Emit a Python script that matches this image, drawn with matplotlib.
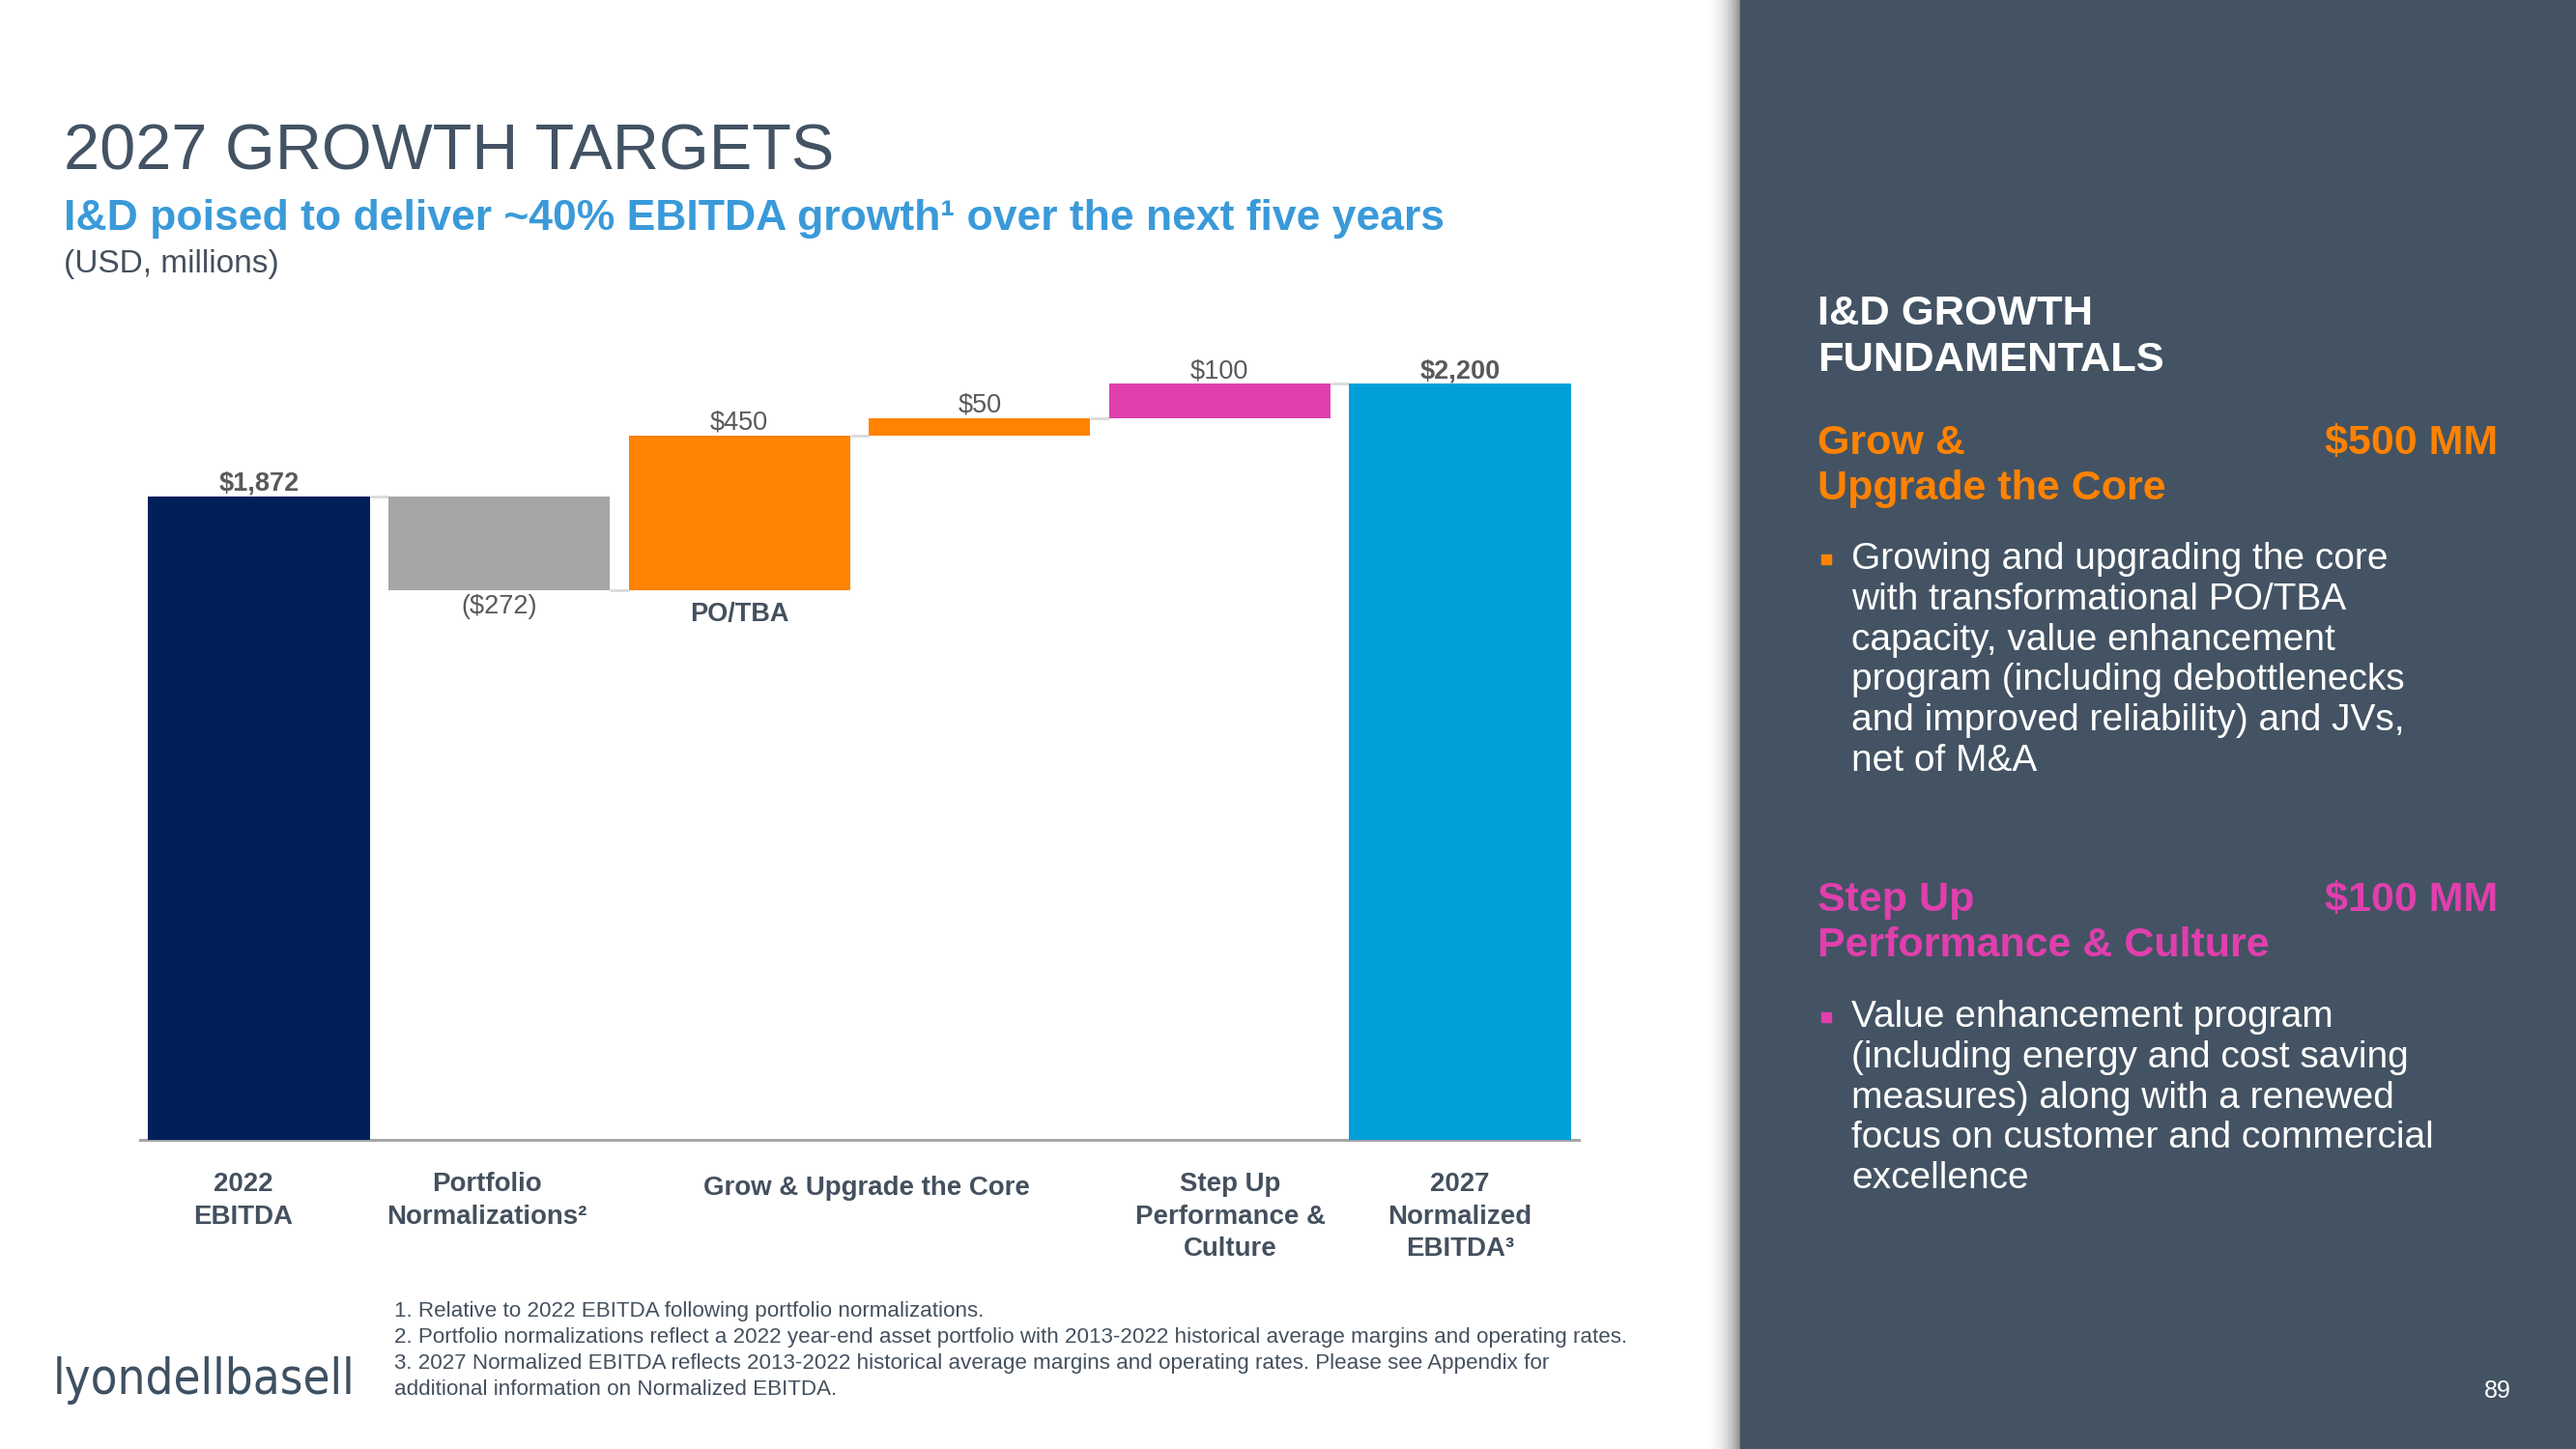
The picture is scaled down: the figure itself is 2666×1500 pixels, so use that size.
import numpy as np
import matplotlib
matplotlib.use("Agg")
import matplotlib.pyplot as plt
from matplotlib import transforms
from matplotlib.patches import Rectangle

# ---------------- data ----------------
categories = ["2022\nEBITDA", "Portfolio\nNormalizations\u00b2", "", "",
              "Step Up\nPerformance &\nCulture", "2027\nNormalized\nEBITDA\u00b3"]
values = [1872, -272, 450, 50, 100, 2200]
kinds = ["total", "delta", "delta", "delta", "delta", "total"]
bar_colors = ["#001F5B", "#A6A6A6", "#FF8200", "#FF8200", "#E03FAD", "#009FDA"]
value_labels = ["$1,872", "($272)", "$450", "$50", "$100", "$2,200"]
label_bold = [True, False, False, False, False, True]
group_label = "Grow & Upgrade the Core"
inner_label = "PO/TBA"

footnotes = [
    "1. Relative to 2022 EBITDA following portfolio normalizations.",
    "2. Portfolio normalizations reflect a 2022 year-end asset portfolio with 2013-2022 historical average margins and operating rates.",
    "3. 2027 Normalized EBITDA reflects 2013-2022 historical average margins and operating rates. Please see Appendix for",
    "additional information on Normalized EBITDA.",
]
bullet1 = ["Growing and upgrading the core", "with transformational PO/TBA",
           "capacity, value enhancement", "program (including debottlenecks",
           "and improved reliability) and JVs,", "net of M&A"]
bullet2 = ["Value enhancement program", "(including energy and cost saving",
           "measures) along with a renewed", "focus on customer and commercial",
           "excellence"]

# ---------------- style ----------------
plt.rcParams['font.family'] = ['Liberation Sans', 'DejaVu Sans']
W, H = 2666, 1500
SLATE = "#435363"
TXT = "#44505E"
LBL = "#595959"
ORANGE = "#FF8200"
PINK = "#E03FAD"

fig = plt.figure(figsize=(W / 100, H / 100), dpi=100)
fig.patch.set_facecolor("white")


def fx(x):
    return x / W


def fy(y):
    return 1 - y / H


# ---------------- waterfall ----------------
ax = fig.add_axes([145 / W, (H - 1180) / H, (1634 - 145) / W, 854 / H])
n = len(values)
x = np.arange(n)
vals = np.array(values, dtype=float)
bottoms = np.zeros(n)
heights = np.zeros(n)
running = 0.0
for i, (v, k) in enumerate(zip(vals, kinds)):
    if k == "total":
        bottoms[i] = 0
        heights[i] = v
        running = v
    else:
        if v >= 0:
            bottoms[i] = running
            heights[i] = v
        else:
            bottoms[i] = running + v
            heights[i] = -v
        running += v

bw = 0.922
ax.bar(x, heights, bottom=bottoms, width=bw, color=bar_colors, zorder=3)

# connectors
levels = []
running = 0.0
for v, k in zip(vals, kinds):
    running = v if k == "total" else running + v
    levels.append(running)
for i in range(n - 1):
    ax.plot([x[i] + bw / 2, x[i + 1] - bw / 2], [levels[i], levels[i]],
            color="#D9D9D9", lw=2, zorder=2, solid_capstyle="butt")

ax.set_xlim(-0.495, n - 1 + 0.495)
ax.set_ylim(0, 2400)
for s in ["left", "right", "top"]:
    ax.spines[s].set_visible(False)
ax.spines["bottom"].set_color("#A6A6A6")
ax.spines["bottom"].set_linewidth(2.2)
ax.set_xticks([])
ax.set_yticks([])
ax.patch.set_alpha(0)

# value labels
for i in range(n):
    top = bottoms[i] + heights[i]
    if vals[i] >= 0:
        ax.annotate(value_labels[i], (x[i], top), xytext=(0, 4.3),
                    textcoords="offset points", ha="center", va="baseline",
                    fontsize=19.5, color=LBL,
                    fontweight="bold" if label_bold[i] else "normal")
    else:
        ax.annotate(value_labels[i], (x[i], bottoms[i]), xytext=(0, -3),
                    textcoords="offset points", ha="center", va="top",
                    fontsize=19.5, color=LBL,
                    fontweight="bold" if label_bold[i] else "normal")
ax.annotate(inner_label, (x[2], bottoms[2]), xytext=(0, -9),
            textcoords="offset points", ha="center", va="top",
            fontsize=19.5, color=TXT, fontweight="bold")

# category labels
tr = transforms.blended_transform_factory(ax.transData, fig.transFigure)
cat_offsets = [-0.065, -0.05, 0, 0, 0.045, 0.0]
for i, c in enumerate(categories):
    if c:
        ax.text(x[i] + cat_offsets[i], fy(1213), c, transform=tr, ha="center",
                va="top", fontsize=19.9, color=TXT, fontweight="bold",
                linespacing=1.38)
ax.text((x[2] + x[3]) / 2 + 0.03, fy(1217), group_label, transform=tr,
        ha="center", va="top", fontsize=19.9, color=TXT, fontweight="bold")

# ---------------- titles ----------------
fig.text(fx(66), fy(175), "2027 GROWTH TARGETS", fontsize=48, color=SLATE,
         va="baseline", ha="left")
fig.text(fx(66), fy(238),
         "I&D poised to deliver ~40% EBITDA growth\u00b9 over the next five years",
         fontsize=32, color="#3A9AD9", fontweight="bold", va="baseline", ha="left")
fig.text(fx(66), fy(282), "(USD, millions)", fontsize=24, color=TXT,
         va="baseline", ha="left")

# footnotes
for j, line in enumerate(footnotes):
    fig.text(fx(408), fy(1363 + j * 27), line, fontsize=16.1, color=TXT,
             va="baseline", ha="left")

# logo
fig.text(fx(55), fy(1443), "lyondellbasell", family="DejaVu Sans",
         fontstretch="condensed", fontsize=36.5, color="#3E5062",
         va="baseline", ha="left")

# ---------------- right panel ----------------
steps = 36
for k in range(steps):
    t = (k + 1) / steps
    g = 1 - 0.42 * t ** 2.2
    fig.patches.append(Rectangle((fx(1765 + k), 0), 1 / W + 1e-4, 1,
                                 transform=fig.transFigure, color=(g, g, g),
                                 zorder=0))
fig.patches.append(Rectangle((fx(1801), 0), 1 - fx(1801), 1,
                             transform=fig.transFigure, color=SLATE, zorder=0))

HX = 1881
fig.text(fx(HX), fy(336), "I&D GROWTH", fontsize=31.3, color="white",
         fontweight="bold", va="baseline")
fig.text(fx(HX), fy(384), "FUNDAMENTALS", fontsize=31.3, color="white",
         fontweight="bold", va="baseline")

fig.text(fx(HX), fy(470), "Grow &", fontsize=31, color=ORANGE,
         fontweight="bold", va="baseline")
fig.text(fx(HX), fy(517), "Upgrade the Core", fontsize=31, color=ORANGE,
         fontweight="bold", va="baseline")
fig.text(fx(2585), fy(470), "$500 MM", fontsize=31, color=ORANGE,
         fontweight="bold", va="baseline", ha="right")

fig.patches.append(Rectangle((fx(1885), fy(584)), 10 / W, 10 / H,
                             transform=fig.transFigure, color=ORANGE, zorder=1))
for j, line in enumerate(bullet1):
    fig.text(fx(1916), fy(589 + j * 41.8), line, fontsize=28, color="white",
             va="baseline")

fig.text(fx(HX), fy(943), "Step Up", fontsize=31, color=PINK,
         fontweight="bold", va="baseline")
fig.text(fx(HX), fy(990), "Performance & Culture", fontsize=31, color=PINK,
         fontweight="bold", va="baseline")
fig.text(fx(2585), fy(943), "$100 MM", fontsize=31, color=PINK,
         fontweight="bold", va="baseline", ha="right")

fig.patches.append(Rectangle((fx(1885), fy(1058)), 10 / W, 10 / H,
                             transform=fig.transFigure, color=PINK, zorder=1))
for j, line in enumerate(bullet2):
    fig.text(fx(1916), fy(1063 + j * 41.8), line, fontsize=28, color="white",
             va="baseline")

fig.text(fx(2599), fy(1447), "89", fontsize=18, color="white", va="baseline",
         ha="right")

fig.savefig("out.png", dpi=100, facecolor="white")
